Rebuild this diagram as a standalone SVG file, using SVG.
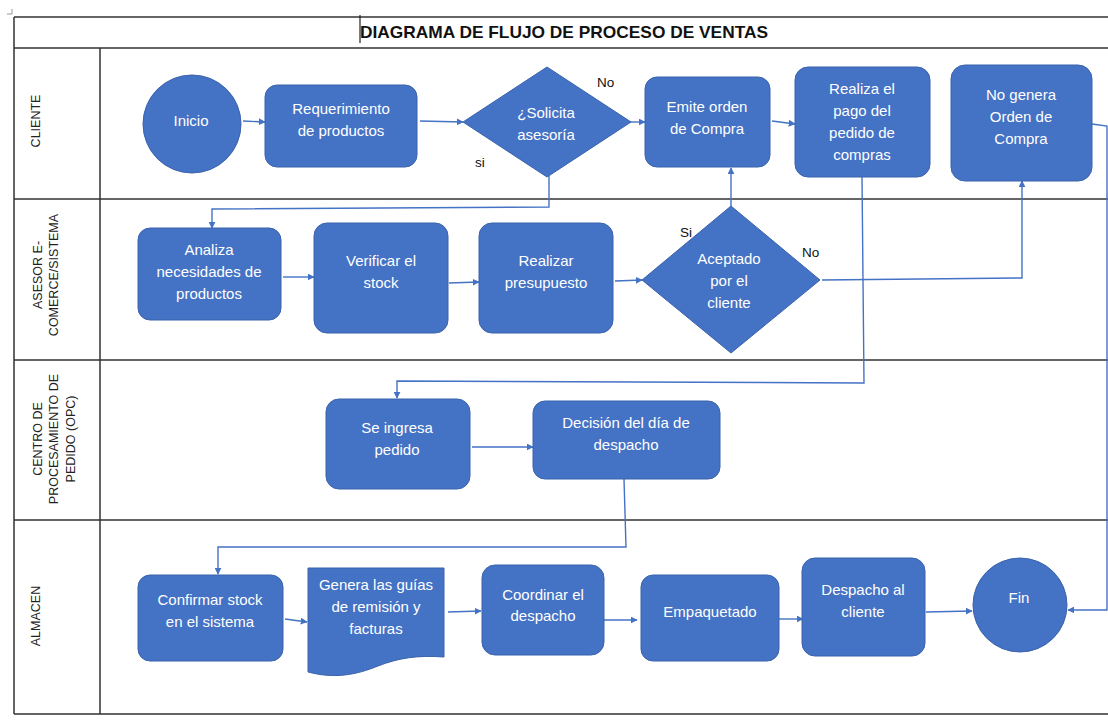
<svg xmlns="http://www.w3.org/2000/svg" width="1108" height="720" viewBox="0 0 1108 720">
<defs>
<marker id="arr" viewBox="0 0 10 10" refX="9" refY="5" markerWidth="7" markerHeight="7" markerUnits="userSpaceOnUse" orient="auto">
<path d="M0,0 L10,5 L0,10 Z" fill="#4472C4"/>
</marker>
<style>
.grid{stroke:#333;stroke-width:1.5;fill:none}
.lane{font-family:"Liberation Sans",Arial,sans-serif;font-size:12.5px;fill:#222;text-anchor:middle}
.shape{fill:#4472C4;stroke:#3A63AC;stroke-width:1}
.t{font-family:"Liberation Sans",Arial,sans-serif;font-size:15px;fill:#fff;text-anchor:middle}
.lbl{font-family:"Liberation Sans",Arial,sans-serif;font-size:13.5px;fill:#111}
.c{stroke:#4472C4;stroke-width:1.4;fill:none;marker-end:url(#arr)}
.cn{stroke:#4472C4;stroke-width:1.4;fill:none}
</style>
</defs>
<rect width="1108" height="720" fill="#fff"/>
<g id="table">
<path d="M12,9 V14 H7" stroke="#999" stroke-width="1" fill="none"/>
<path class="grid" d="M14,17 H1108 M14,48 H1108 M14,199 H1108 M14,360 H1108 M14,520 H1108 M14,714 H1108 M14,17 V714 M100,48 V714"/>
<line x1="360" y1="15" x2="360" y2="43" stroke="#222" stroke-width="1.2"/>
<text x="564" y="38" font-family="'Liberation Sans',Arial,sans-serif" font-weight="bold" font-size="17" fill="#111" text-anchor="middle" textLength="408" lengthAdjust="spacingAndGlyphs">DIAGRAMA DE FLUJO DE PROCESO DE VENTAS</text>
</g>
<g id="lanes">
<text class="lane" transform="translate(40,121) rotate(-90)">CLIENTE</text>
<text class="lane" transform="translate(42,275) rotate(-90)">ASESOR E-</text>
<text class="lane" transform="translate(58,275) rotate(-90)">COMERCE/SISTEMA</text>
<text class="lane" transform="translate(42,439) rotate(-90)">CENTRO DE</text>
<text class="lane" transform="translate(58,439) rotate(-90)">PROCESAMIENTO DE</text>
<text class="lane" transform="translate(75,439) rotate(-90)">PEDIDO (OPC)</text>
<text class="lane" transform="translate(40,616) rotate(-90)">ALMACEN</text>
</g>
<g id="connectors">
<path class="c" d="M243,121 L265,122"/>
<path class="c" d="M420,121 L463,122"/>
<path class="c" d="M630,122 L645,122"/>
<path class="c" d="M772,121 L795,124"/>
<path class="c" d="M549,176 L549,207 L212,209 L212,228"/>
<path class="c" d="M283,277 L314,277"/>
<path class="c" d="M449,283 L479,282"/>
<path class="c" d="M615,281 L642,280"/>
<path class="c" d="M731,206 L731,168"/>
<path class="c" d="M822,280 L1022,278 L1022,181"/>
<path class="c" d="M862,177 L864,383 L397,381 L397,398"/>
<path class="c" d="M1092,124 L1107,126 L1107,610 L1068,610"/>
<path class="c" d="M472,447 L533,447"/>
<path class="c" d="M624,479 L626,547 L218,547 L218,574"/>
<path class="c" d="M285,619 L307,622"/>
<path class="c" d="M448,612 L481,611"/>
<path class="c" d="M604,620 L637,620"/>
<path class="c" d="M779,619 L803,619"/>
<path class="c" d="M926,612 L972,611"/>
</g>
<g id="lbl-no1"><text class="lbl" x="597" y="87">No</text></g>
<g id="lbl-si1"><text class="lbl" x="475" y="167">si</text></g>
<g id="lbl-si2"><text class="lbl" x="680" y="237">Si</text></g>
<g id="lbl-no2"><text class="lbl" x="802" y="257">No</text></g>
<g id="inicio">
<circle class="shape" cx="192" cy="124" r="49"/>
<text class="t" x="191" y="126">Inicio</text>
</g>
<g id="requerimiento">
<rect class="shape" x="265" y="85" width="152" height="82" rx="12"/>
<text class="t" x="341" y="114">Requerimiento</text>
<text class="t" x="341" y="136">de productos</text>
</g>
<g id="solicita">
<polygon class="shape" points="547,67 631,122 547,177 463,122"/>
<text class="t" x="546" y="118">¿Solicita</text>
<text class="t" x="546" y="140">asesoría</text>
</g>
<g id="emite">
<rect class="shape" x="645" y="77" width="125" height="90" rx="12"/>
<text class="t" x="707" y="112">Emite orden</text>
<text class="t" x="707" y="134">de Compra</text>
</g>
<g id="realiza">
<rect class="shape" x="795" y="67" width="135" height="110" rx="13"/>
<text class="t" x="862" y="94">Realiza el</text>
<text class="t" x="862" y="116">pago del</text>
<text class="t" x="862" y="138">pedido de</text>
<text class="t" x="862" y="160">compras</text>
</g>
<g id="nogenera">
<rect class="shape" x="951" y="65" width="141" height="116" rx="14"/>
<text class="t" x="1021" y="100">No genera</text>
<text class="t" x="1021" y="122">Orden de</text>
<text class="t" x="1021" y="144">Compra</text>
</g>
<g id="analiza">
<rect class="shape" x="138" y="228" width="143" height="92" rx="12"/>
<text class="t" x="209" y="255">Analiza</text>
<text class="t" x="209" y="277">necesidades de</text>
<text class="t" x="209" y="299">productos</text>
</g>
<g id="verificar">
<rect class="shape" x="314" y="223" width="134" height="110" rx="13"/>
<text class="t" x="381" y="266">Verificar el</text>
<text class="t" x="381" y="288">stock</text>
</g>
<g id="presupuesto">
<rect class="shape" x="479" y="223" width="134" height="110" rx="13"/>
<text class="t" x="546" y="266">Realizar</text>
<text class="t" x="546" y="288">presupuesto</text>
</g>
<g id="aceptado">
<polygon class="shape" points="731,206 820,280 731,353 642,280"/>
<text class="t" x="729" y="264">Aceptado</text>
<text class="t" x="729" y="286">por el</text>
<text class="t" x="729" y="308">cliente</text>
</g>
<g id="ingresa">
<rect class="shape" x="326" y="399" width="144" height="90" rx="13"/>
<text class="t" x="397" y="433">Se ingresa</text>
<text class="t" x="397" y="455">pedido</text>
</g>
<g id="decision">
<rect class="shape" x="533" y="401" width="187" height="78" rx="12"/>
<text class="t" x="626" y="428">Decisión del día de</text>
<text class="t" x="626" y="450">despacho</text>
</g>
<g id="confirmar">
<rect class="shape" x="138" y="575" width="145" height="86" rx="12"/>
<text class="t" x="210" y="605">Confirmar stock</text>
<text class="t" x="210" y="627">en el sistema</text>
</g>
<g id="genera">
<path class="shape" d="M308,568 H444 V657 C418,655 398,658 378,666 C356,675 334,679 308,672 Z"/>
<text class="t" x="376" y="590">Genera las guías</text>
<text class="t" x="376" y="612">de remisión y</text>
<text class="t" x="376" y="634">facturas</text>
</g>
<g id="coordinar">
<rect class="shape" x="482" y="565" width="122" height="90" rx="13"/>
<text class="t" x="543" y="600">Coordinar el</text>
<text class="t" x="543" y="621">despacho</text>
</g>
<g id="empaquetado">
<rect class="shape" x="641" y="575" width="138" height="86" rx="12"/>
<text class="t" x="710" y="617">Empaquetado</text>
</g>
<g id="despacho">
<rect class="shape" x="802" y="558" width="123" height="98" rx="13"/>
<text class="t" x="863" y="595">Despacho al</text>
<text class="t" x="863" y="617">cliente</text>
</g>
<g id="fin">
<circle class="shape" cx="1020" cy="605" r="47"/>
<text class="t" x="1019" y="603">Fin</text>
</g>
</svg>
